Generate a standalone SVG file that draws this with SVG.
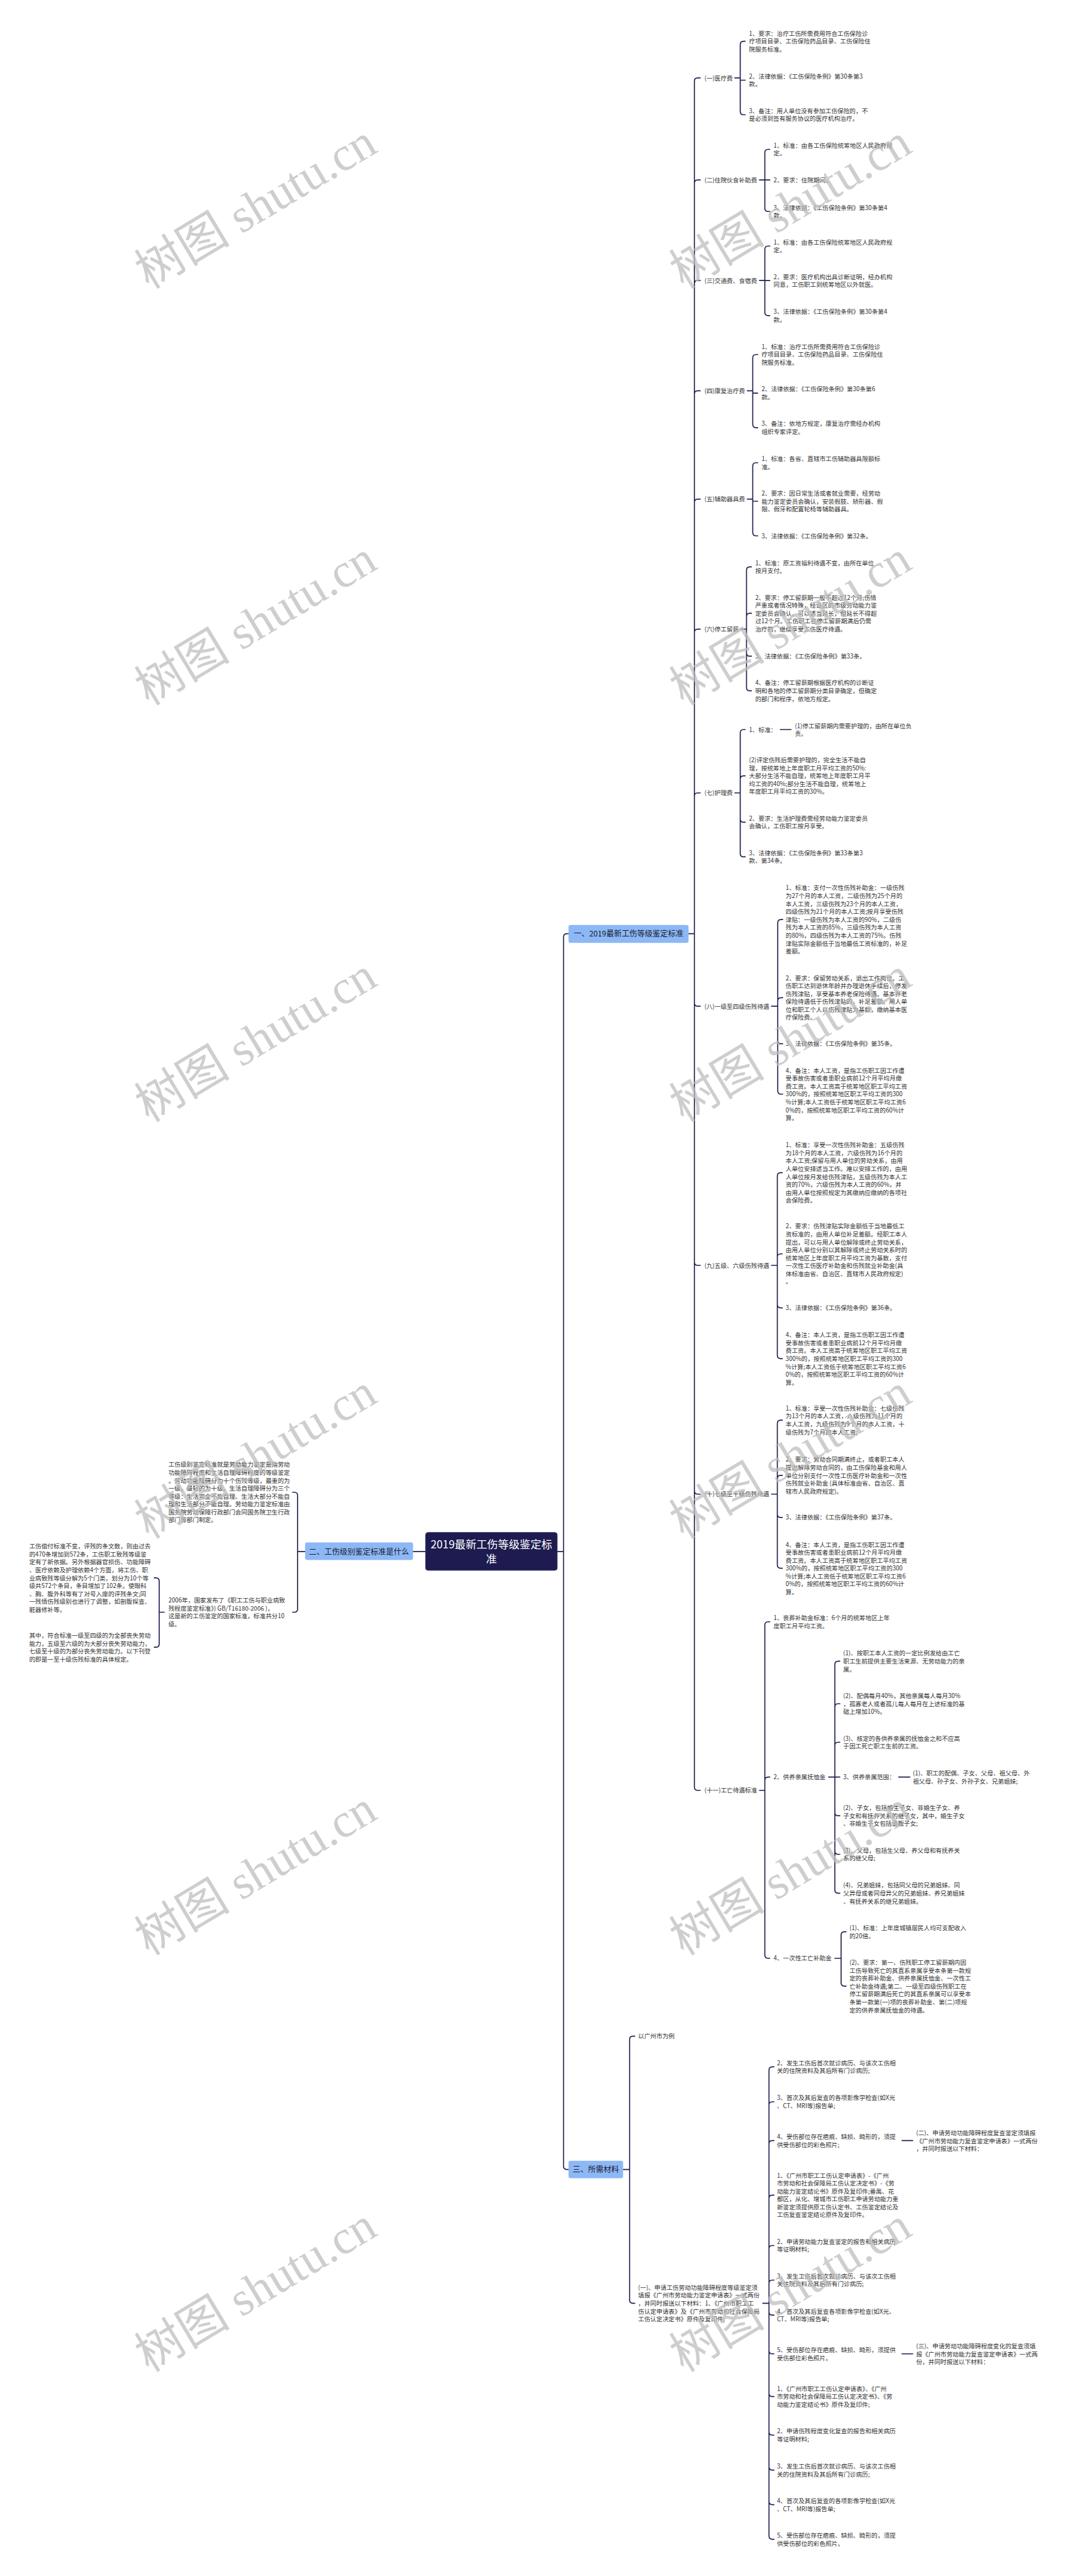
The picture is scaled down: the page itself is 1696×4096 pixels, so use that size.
<svg xmlns="http://www.w3.org/2000/svg" width="1696" height="4096" viewBox="0 0 1696 4096">
<style>
.t{font-family:"Noto Sans CJK SC","Noto Sans",sans-serif;font-size:14.6px;fill:#333}
.bl{font-family:"Noto Sans CJK SC","Noto Sans",sans-serif;font-size:18.5px;fill:#1a1a2e;text-anchor:middle}
.ct{font-family:"Noto Sans CJK SC","Noto Sans",sans-serif;font-size:26px;fill:#fff;text-anchor:middle}
.l{fill:none;stroke:#1f2050;stroke-width:2.5;stroke-linecap:round;stroke-linejoin:round}
.bx{fill:#8db8f6}
.wm{font-size:115px;fill:#bdbdbd;fill-opacity:0.75}
.wc{font-family:"Noto Sans CJK SC",sans-serif}
.ws{font-family:"Liberation Serif",serif}
</style>
<rect width="1696" height="4096" fill="#fff"/>
<g transform="scale(0.6625)">
<g id="connectors" class="l">
<path d="M1337 3724H1352M1352 3724V2249Q1352 2241 1360 2241H1364M1352 3724V5199Q1352 5207 1360 5207H1364M1021 3724H991"/>
<path d="M1652 2241H1666M1666 2241V195Q1666 187 1674 187H1680M1666 2241V440Q1666 432 1674 432H1680M1666 2241V681Q1666 673 1674 673H1680M1666 2241V946Q1666 938 1674 938H1680M1666 2241V1206Q1666 1198 1674 1198H1680M1666 2241V1518Q1666 1510 1674 1510H1680M1666 2241V1911Q1666 1903 1674 1903H1680M1666 2241V2407Q1666 2415 1674 2415H1680M1666 2241V3029Q1666 3037 1674 3037H1680M1666 2241V3578Q1666 3586 1674 3586H1680M1666 2241V4289Q1666 4297 1674 4297H1680"/>
<path d="M1763 187H1776M1776 187V107Q1776 99 1784 99H1788M1776 192.5H1788M1776 187V267.5Q1776 275.5 1784 275.5H1788"/>
<path d="M1822 432H1835M1835 432V366.5Q1835 358.5 1843 358.5H1847M1835 432H1847M1835 432V499.5Q1835 507.5 1843 507.5H1847"/>
<path d="M1822 673H1835M1835 673V598.5Q1835 590.5 1843 590.5H1847M1835 673.5H1847M1835 673V749.5Q1835 757.5 1843 757.5H1847"/>
<path d="M1793 938H1806M1806 938V859Q1806 851 1814 851H1818M1806 943.5H1818M1806 938V1018.5Q1806 1026.5 1814 1026.5H1818"/>
<path d="M1793 1198H1806M1806 1198V1118.5Q1806 1110.5 1814 1110.5H1818M1806 1203H1818M1806 1198V1278Q1806 1286 1814 1286H1818"/>
<path d="M1778 1510H1791M1791 1510V1368.5Q1791 1360.5 1799 1360.5H1803M1791 1510V1480Q1791 1472 1799 1472H1803M1791 1510V1567Q1791 1575 1799 1575H1803M1791 1510V1650Q1791 1658 1799 1658H1803"/>
<path d="M1763 1903H1776M1776 1903V1759Q1776 1751 1784 1751H1788M1776 1903V1870Q1776 1862 1784 1862H1788M1776 1903V1965.5Q1776 1973.5 1784 1973.5H1788M1776 1903V2048.5Q1776 2056.5 1784 2056.5H1788M1872 1751H1898"/>
<path d="M1851 2415H1866M1866 2415V2215Q1866 2207 1874 2207H1878M1866 2415V2402.5Q1866 2394.5 1874 2394.5H1878M1866 2415V2497Q1866 2505 1874 2505H1878M1866 2415V2618Q1866 2626 1874 2626H1878"/>
<path d="M1851 3037H1865M1865 3037V2822.5Q1865 2814.5 1873 2814.5H1877M1865 3037V3017.5Q1865 3009.5 1873 3009.5H1877M1865 3037V3131Q1865 3139 1873 3139H1877M1865 3037V3253Q1865 3261 1873 3261H1877"/>
<path d="M1851 3586H1865M1865 3586V3416.5Q1865 3408.5 1873 3408.5H1877M1865 3586V3549Q1865 3541 1873 3541H1877M1865 3586V3634Q1865 3642 1873 3642H1877M1865 3586V3756Q1865 3764 1873 3764H1877"/>
<path d="M1822 4297H1835M1835 4297V3900.5Q1835 3892.5 1843 3892.5H1847M1835 4297V4273Q1835 4265 1843 4265H1847M1835 4297V4692Q1835 4700 1843 4700H1847"/>
<path d="M1988 4265H2003M2003 4265V3995Q2003 3987 2011 3987H2015M2003 4265V4097Q2003 4089 2011 4089H2015M2003 4265V4189.5Q2003 4181.5 2011 4181.5H2015M2003 4265H2015M2003 4265V4350Q2003 4358 2011 4358H2015M2003 4265V4442.5Q2003 4450.5 2011 4450.5H2015M2003 4265V4536Q2003 4544 2011 4544H2015M2156 4265H2183"/>
<path d="M2003 4700H2018M2018 4700V4644.5Q2018 4636.5 2026 4636.5H2030M2018 4700V4759Q2018 4767 2026 4767H2030"/>
<path d="M1495 5207H1510.5M1510.5 5207V4895Q1510.5 4887 1518.5 4887H1523M1510.5 5207V5520Q1510.5 5528 1518.5 5528H1523"/>
<path d="M1830 5528H1845M1845 5528V4968.5Q1845 4960.5 1853 4960.5H1857M1845 5528V5052.5Q1845 5044.5 1853 5044.5H1857M1845 5528V5145.5Q1845 5137.5 1853 5137.5H1857M1845 5528V5276.5Q1845 5268.5 1853 5268.5H1857M1845 5528V5397.5Q1845 5389.5 1853 5389.5H1857M1845 5528V5480.5Q1845 5472.5 1853 5472.5H1857M1845 5528V5548.5Q1845 5556.5 1853 5556.5H1857M1845 5528V5641.5Q1845 5649.5 1853 5649.5H1857M1845 5528V5744Q1845 5752 1853 5752H1857M1845 5528V5836.5Q1845 5844.5 1853 5844.5H1857M1845 5528V5920.5Q1845 5928.5 1853 5928.5H1857M1845 5528V6003.5Q1845 6011.5 1853 6011.5H1857M1845 5528V6086.5Q1845 6094.5 1853 6094.5H1857M2164 5137.5H2190M2164 5649.5H2190"/>
<path d="M732 3724H714M714 3724V3589.5Q714 3581.5 706 3581.5H702M714 3724V3861.5Q714 3869.5 706 3869.5H702"/>
<path d="M394 3869.5H382M382 3869.5V3795Q382 3787 374 3787H370M382 3869.5V3945.5Q382 3953.5 374 3953.5H370"/>
</g>

<g id="center"><rect x="1021" y="3678" width="316" height="91" rx="6" fill="#1d1b4f" stroke="#3a3a70" stroke-width="1.5"/><text class="ct" x="1179" y="3716.5">2019最新工伤等级鉴定标</text><text class="ct" x="1179" y="3750.5">准</text></g>
<g id="b1"><rect class="bx" x="1364" y="2220" width="288" height="43" rx="5"/><text class="bl" x="1508" y="2248">一、2019最新工伤等级鉴定标准</text></g>
<g id="b2"><rect class="bx" x="732" y="3702" width="259" height="42" rx="5"/><text class="bl" x="861.5" y="3731">二、工伤级别鉴定标准是什么</text></g>
<g id="b3"><rect class="bx" x="1364" y="5186" width="131" height="42" rx="5"/><text class="bl" x="1429.5" y="5214">三、所需材料</text></g>

<g id="a1"><text class="t" x="1690" y="192.5">(一)医疗费</text></g>
<g id="a1-1"><text class="t" x="1797" y="85.5"><tspan x="1797">1、要求：治疗工伤所需费用符合工伤保险诊</tspan><tspan x="1797" dy="19">疗项目目录、工伤保险药品目录、工伤保险住</tspan><tspan x="1797" dy="19">院服务标准。</tspan></text></g>
<g id="a1-2"><text class="t" x="1797" y="188.5"><tspan x="1797">2、法律依据：《工伤保险条例》第30条第3</tspan><tspan x="1797" dy="19">款。</tspan></text></g>
<g id="a1-3"><text class="t" x="1797" y="271.5"><tspan x="1797">3、备注：用人单位没有参加工伤保险的，不</tspan><tspan x="1797" dy="19">是必须到签有服务协议的医疗机构治疗。</tspan></text></g>

<g id="a2"><text class="t" x="1690" y="437.5">(二)住院伙食补助费</text></g>
<g id="a2-1"><text class="t" x="1856" y="354.5"><tspan x="1856">1、标准：由各工伤保险统筹地区人民政府规</tspan><tspan x="1856" dy="19">定。</tspan></text></g>
<g id="a2-2"><text class="t" x="1856" y="437.5">2、要求：住院期间。</text></g>
<g id="a2-3"><text class="t" x="1856" y="503.5"><tspan x="1856">3、法律依据：《工伤保险条例》第30条第4</tspan><tspan x="1856" dy="19">款。</tspan></text></g>

<g id="a3"><text class="t" x="1690" y="678.5">(三)交通费、食宿费</text></g>
<g id="a3-1"><text class="t" x="1856" y="586.5"><tspan x="1856">1、标准：由各工伤保险统筹地区人民政府规</tspan><tspan x="1856" dy="19">定。</tspan></text></g>
<g id="a3-2"><text class="t" x="1856" y="669.5"><tspan x="1856">2、要求：医疗机构出具诊断证明，经办机构</tspan><tspan x="1856" dy="19">同意，工伤职工到统筹地区以外就医。</tspan></text></g>
<g id="a3-3"><text class="t" x="1856" y="753.5"><tspan x="1856">3、法律依据：《工伤保险条例》第30条第4</tspan><tspan x="1856" dy="19">款。</tspan></text></g>

<g id="a4"><text class="t" x="1690" y="943.5">(四)康复治疗费</text></g>
<g id="a4-1"><text class="t" x="1827" y="837.5"><tspan x="1827">1、标准：治疗工伤所需费用符合工伤保险诊</tspan><tspan x="1827" dy="19">疗项目目录、工伤保险药品目录、工伤保险住</tspan><tspan x="1827" dy="19">院服务标准。</tspan></text></g>
<g id="a4-2"><text class="t" x="1827" y="939.5"><tspan x="1827">2、法律依据：《工伤保险条例》第30条第6</tspan><tspan x="1827" dy="19">款。</tspan></text></g>
<g id="a4-3"><text class="t" x="1827" y="1022.5"><tspan x="1827">3、备注：依地方规定，康复治疗需经办机构</tspan><tspan x="1827" dy="19">组织专家评定。</tspan></text></g>

<g id="a5"><text class="t" x="1690" y="1203.5">(五)辅助器具费</text></g>
<g id="a5-1"><text class="t" x="1827" y="1106.5"><tspan x="1827">1、标准：各省、直辖市工伤辅助器具限额标</tspan><tspan x="1827" dy="19">准。</tspan></text></g>
<g id="a5-2"><text class="t" x="1827" y="1189.5"><tspan x="1827">2、要求：因日常生活或者就业需要，经劳动</tspan><tspan x="1827" dy="19">能力鉴定委员会确认，安装假肢、矫形器、假</tspan><tspan x="1827" dy="19">眼、假牙和配置轮椅等辅助器具。</tspan></text></g>
<g id="a5-3"><text class="t" x="1827" y="1291.5">3、法律依据：《工伤保险条例》第32条。</text></g>

<g id="a6"><text class="t" x="1690" y="1515.5">(六)停工留薪</text></g>
<g id="a6-1"><text class="t" x="1812" y="1356.5"><tspan x="1812">1、标准：原工资福利待遇不变，由所在单位</tspan><tspan x="1812" dy="19">按月支付。</tspan></text></g>
<g id="a6-2"><text class="t" x="1812" y="1439.5"><tspan x="1812">2、要求：停工留薪期一般不超过12个月;伤情</tspan><tspan x="1812" dy="19">严重或者情况特殊，经设区的市级劳动能力鉴</tspan><tspan x="1812" dy="19">定委员会确认，可以适当延长，但延长不得超</tspan><tspan x="1812" dy="19">过12个月。工伤职工在停工留薪期满后仍需</tspan><tspan x="1812" dy="19">治疗的，继续享受工伤医疗待遇。</tspan></text></g>
<g id="a6-3"><text class="t" x="1812" y="1580.5">3、法律依据：《工伤保险条例》第33条。</text></g>
<g id="a6-4"><text class="t" x="1812" y="1644.5"><tspan x="1812">4、备注：停工留薪期根据医疗机构的诊断证</tspan><tspan x="1812" dy="19">明和各地的停工留薪期分类目录确定，但确定</tspan><tspan x="1812" dy="19">的部门和程序，依地方规定。</tspan></text></g>

<g id="a7"><text class="t" x="1690" y="1908.5">(七)护理费</text></g>
<g id="a7-1"><text class="t" x="1797" y="1756.5">1、标准：</text></g>
<g id="a7-1-1"><text class="t" x="1907" y="1747.5"><tspan x="1907">(1)停工留薪期内需要护理的，由所在单位负</tspan><tspan x="1907" dy="19">责。</tspan></text></g>
<g id="a7-2"><text class="t" x="1797" y="1829.5"><tspan x="1797">(2)评定伤残后需要护理的，完全生活不能自</tspan><tspan x="1797" dy="19">理，按统筹地上年度职工月平均工资的50%:</tspan><tspan x="1797" dy="19">大部分生活不能自理，统筹地上年度职工月平</tspan><tspan x="1797" dy="19">均工资的40%;部分生活不能自理，统筹地上</tspan><tspan x="1797" dy="19">年度职工月平均工资的30%。</tspan></text></g>
<g id="a7-3"><text class="t" x="1797" y="1969.5"><tspan x="1797">2、要求：生活护理费需经劳动能力鉴定委员</tspan><tspan x="1797" dy="19">会确认，工伤职工按月享受。</tspan></text></g>
<g id="a7-4"><text class="t" x="1797" y="2052.5"><tspan x="1797">3、法律依据：《工伤保险条例》第33条第3</tspan><tspan x="1797" dy="19">款、第34条。</tspan></text></g>

<g id="a8"><text class="t" x="1690" y="2420.5">(八)一级至四级伤残待遇</text></g>
<g id="a8-1"><text class="t" x="1885" y="2136.5"><tspan x="1885">1、标准：支付一次性伤残补助金：一级伤残</tspan><tspan x="1885" dy="19">为27个月的本人工资，二级伤残为25个月的</tspan><tspan x="1885" dy="19">本人工资，三级伤残为23个月的本人工资，</tspan><tspan x="1885" dy="19">四级伤残为21个月的本人工资;按月享受伤残</tspan><tspan x="1885" dy="19">津贴：一级伤残为本人工资的90%，二级伤</tspan><tspan x="1885" dy="19">残为本人工资的85%，三级伤残为本人工资</tspan><tspan x="1885" dy="19">的80%，四级伤残为本人工资的75%。伤残</tspan><tspan x="1885" dy="19">津贴实际金额低于当地最低工资标准的，补足</tspan><tspan x="1885" dy="19">差额。</tspan></text></g>
<g id="a8-2"><text class="t" x="1885" y="2352.5"><tspan x="1885">2、要求：保留劳动关系，退出工作岗位。工</tspan><tspan x="1885" dy="19">伤职工达到退休年龄并办理退休手续后，停发</tspan><tspan x="1885" dy="19">伤残津贴，享受基本养老保险待遇。基本养老</tspan><tspan x="1885" dy="19">保险待遇低于伤残津贴的，补足差额。用人单</tspan><tspan x="1885" dy="19">位和职工个人以伤残津贴为基数，缴纳基本医</tspan><tspan x="1885" dy="19">疗保险费。</tspan></text></g>
<g id="a8-3"><text class="t" x="1885" y="2510.5">3、法律依据：《工伤保险条例》第35条。</text></g>
<g id="a8-4"><text class="t" x="1885" y="2574.5"><tspan x="1885">4、备注：本人工资，是指工伤职工因工作遭</tspan><tspan x="1885" dy="19">受事故伤害或者患职业病前12个月平均月缴</tspan><tspan x="1885" dy="19">费工资。本人工资高于统筹地区职工平均工资</tspan><tspan x="1885" dy="19">300%的，按照统筹地区职工平均工资的300</tspan><tspan x="1885" dy="19">%计算;本人工资低于统筹地区职工平均工资6</tspan><tspan x="1885" dy="19">0%的，按照统筹地区职工平均工资的60%计</tspan><tspan x="1885" dy="19">算。</tspan></text></g>

<g id="a9"><text class="t" x="1690" y="3042.5">(九)五级、六级伤残待遇</text></g>
<g id="a9-1"><text class="t" x="1885" y="2753.5"><tspan x="1885">1、标准：享受一次性伤残补助金：五级伤残</tspan><tspan x="1885" dy="19">为18个月的本人工资，六级伤残为16个月的</tspan><tspan x="1885" dy="19">本人工资;保留与用人单位的劳动关系，由用</tspan><tspan x="1885" dy="19">人单位安排适当工作。难以安排工作的，由用</tspan><tspan x="1885" dy="19">人单位按月发给伤残津贴，五级伤残为本人工</tspan><tspan x="1885" dy="19">资的70%，六级伤残为本人工资的60%，并</tspan><tspan x="1885" dy="19">由用人单位按照规定为其缴纳应缴纳的各项社</tspan><tspan x="1885" dy="19">会保险费。</tspan></text></g>
<g id="a9-2"><text class="t" x="1885" y="2948.5"><tspan x="1885">2、要求：伤残津贴实际金额低于当地最低工</tspan><tspan x="1885" dy="19">资标准的，由用人单位补足差额。经职工本人</tspan><tspan x="1885" dy="19">提出，可以与用人单位解除或终止劳动关系，</tspan><tspan x="1885" dy="19">由用人单位分别以其解除或终止劳动关系时的</tspan><tspan x="1885" dy="19">统筹地区上年度职工月平均工资为基数，支付</tspan><tspan x="1885" dy="19">一次性工伤医疗补助金和伤残就业补助金(具</tspan><tspan x="1885" dy="19">体标准由省、自治区、直辖市人民政府规定)</tspan><tspan x="1885" dy="19">。</tspan></text></g>
<g id="a9-3"><text class="t" x="1885" y="3144.5">3、法律依据：《工伤保险条例》第36条。</text></g>
<g id="a9-4"><text class="t" x="1885" y="3209.5"><tspan x="1885">4、备注：本人工资，是指工伤职工因工作遭</tspan><tspan x="1885" dy="19">受事故伤害或者患职业病前12个月平均月缴</tspan><tspan x="1885" dy="19">费工资。本人工资高于统筹地区职工平均工资</tspan><tspan x="1885" dy="19">300%的，按照统筹地区职工平均工资的300</tspan><tspan x="1885" dy="19">%计算;本人工资低于统筹地区职工平均工资6</tspan><tspan x="1885" dy="19">0%的，按照统筹地区职工平均工资的60%计</tspan><tspan x="1885" dy="19">算。</tspan></text></g>

<g id="a10"><text class="t" x="1690" y="3591.5">(十)七级至十级伤残待遇</text></g>
<g id="a10-1"><text class="t" x="1885" y="3385.5"><tspan x="1885">1、标准：享受一次性伤残补助金：七级伤残</tspan><tspan x="1885" dy="19">为13个月的本人工资，八级伤残为11个月的</tspan><tspan x="1885" dy="19">本人工资，九级伤残为9个月的本人工资，十</tspan><tspan x="1885" dy="19">级伤残为7个月的本人工资;</tspan></text></g>
<g id="a10-2"><text class="t" x="1885" y="3508.5"><tspan x="1885">2、要求：劳动合同期满终止，或者职工本人</tspan><tspan x="1885" dy="19">提出解除劳动合同的，由工伤保险基金和用人</tspan><tspan x="1885" dy="19">单位分别支付一次性工伤医疗补助金和一次性</tspan><tspan x="1885" dy="19">伤残就业补助金 (具体标准由省、自治区、直</tspan><tspan x="1885" dy="19">辖市人民政府规定)。</tspan></text></g>
<g id="a10-3"><text class="t" x="1885" y="3647.5">3、法律依据：《工伤保险条例》第37条。</text></g>
<g id="a10-4"><text class="t" x="1885" y="3712.5"><tspan x="1885">4、备注：本人工资，是指工伤职工因工作遭</tspan><tspan x="1885" dy="19">受事故伤害或者患职业病前12个月平均月缴</tspan><tspan x="1885" dy="19">费工资。本人工资高于统筹地区职工平均工资</tspan><tspan x="1885" dy="19">300%的，按照统筹地区职工平均工资的300</tspan><tspan x="1885" dy="19">%计算;本人工资低于统筹地区职工平均工资6</tspan><tspan x="1885" dy="19">0%的，按照统筹地区职工平均工资的60%计</tspan><tspan x="1885" dy="19">算。</tspan></text></g>

<g id="a11"><text class="t" x="1690" y="4302.5">(十一)工亡待遇标准</text></g>
<g id="a11-1"><text class="t" x="1856" y="3888.5"><tspan x="1856">1、丧葬补助金标准：6个月的统筹地区上年</tspan><tspan x="1856" dy="19">度职工月平均工资。</tspan></text></g>
<g id="a11-2"><text class="t" x="1856" y="4270.5">2、供养亲属抚恤金</text></g>
<g id="a11-2-1"><text class="t" x="2023" y="3973.5"><tspan x="2023">(1)、按职工本人工资的一定比例发给由工亡</tspan><tspan x="2023" dy="19">职工生前提供主要生活来源、无劳动能力的亲</tspan><tspan x="2023" dy="19">属。</tspan></text></g>
<g id="a11-2-2"><text class="t" x="2023" y="4075.5"><tspan x="2023">(2)、配偶每月40%，其他亲属每人每月30%</tspan><tspan x="2023" dy="19">，孤寡老人或者孤儿每人每月在上述标准的基</tspan><tspan x="2023" dy="19">础上增加10%。</tspan></text></g>
<g id="a11-2-3"><text class="t" x="2023" y="4177.5"><tspan x="2023">(3)、核定的各供养亲属的抚恤金之和不应高</tspan><tspan x="2023" dy="19">于因工死亡职工生前的工资。</tspan></text></g>
<g id="a11-2-4"><text class="t" x="2023" y="4270.5">3、供养亲属范围：</text></g>
<g id="a11-2-4-1"><text class="t" x="2190" y="4261.5"><tspan x="2190">(1)、职工的配偶、子女、父母、祖父母、外</tspan><tspan x="2190" dy="19">祖父母、孙子女、外孙子女、兄弟姐妹;</tspan></text></g>
<g id="a11-2-5"><text class="t" x="2023" y="4344.5"><tspan x="2023">(2)、子女，包括婚生子女、非婚生子女、养</tspan><tspan x="2023" dy="19">子女和有抚养关系的继子女，其中，婚生子女</tspan><tspan x="2023" dy="19">、非婚生子女包括遗腹子女;</tspan></text></g>
<g id="a11-2-6"><text class="t" x="2023" y="4446.5"><tspan x="2023">(3)、父母，包括生父母、养父母和有抚养关</tspan><tspan x="2023" dy="19">系的继父母;</tspan></text></g>
<g id="a11-2-7"><text class="t" x="2023" y="4530.5"><tspan x="2023">(4)、兄弟姐妹，包括同父母的兄弟姐妹、同</tspan><tspan x="2023" dy="19">父异母或者同母异父的兄弟姐妹、养兄弟姐妹</tspan><tspan x="2023" dy="19">、有抚养关系的继兄弟姐妹。</tspan></text></g>
<g id="a11-3"><text class="t" x="1856" y="4705.5">4、一次性工亡补助金</text></g>
<g id="a11-3-1"><text class="t" x="2038" y="4632.5"><tspan x="2038">(1)、标准：上年度城镇居民人均可支配收入</tspan><tspan x="2038" dy="19">的20倍。</tspan></text></g>
<g id="a11-3-2"><text class="t" x="2038" y="4715.5"><tspan x="2038">(2)、要求：第一、伤残职工停工留薪期内因</tspan><tspan x="2038" dy="19">工伤导致死亡的其直系亲属享受本条第一款规</tspan><tspan x="2038" dy="19">定的丧葬补助金、供养亲属抚恤金、一次性工</tspan><tspan x="2038" dy="19">亡补助金待遇;第二、一级至四级伤残职工在</tspan><tspan x="2038" dy="19">停工留薪期满后死亡的其直系亲属可以享受本</tspan><tspan x="2038" dy="19">条第一款第(一)项的丧葬补助金、第(二)项规</tspan><tspan x="2038" dy="19">定的供养亲属抚恤金的待遇。</tspan></text></g>

<g id="c0"><text class="t" x="1531" y="4892.5">以广州市为例</text></g>
<g id="c1"><text class="t" x="1531" y="5495.5"><tspan x="1531">(一)、申请工伤劳动功能障碍程度等级鉴定须</tspan><tspan x="1531" dy="19">填报《广州市劳动能力鉴定申请表》一式两份</tspan><tspan x="1531" dy="19">，并同时报送以下材料：1、《广州市职工工</tspan><tspan x="1531" dy="19">伤认定申请表》及《广州市劳动和社会保障局</tspan><tspan x="1531" dy="19">工伤认定决定书》原件及复印件;</tspan></text></g>
<g id="c1-1"><text class="t" x="1864" y="4956.5"><tspan x="1864">2、发生工伤后首次就诊病历、与该次工伤相</tspan><tspan x="1864" dy="19">关的住院资料及其后所有门诊病历;</tspan></text></g>
<g id="c1-2"><text class="t" x="1864" y="5040.5"><tspan x="1864">3、首次及其后复查的各项影像学检查(如X光</tspan><tspan x="1864" dy="19">、CT、MRI等)报告单;</tspan></text></g>
<g id="c1-3"><text class="t" x="1864" y="5133.5"><tspan x="1864">4、受伤部位存在疤痕、缺损、畸形的，须提</tspan><tspan x="1864" dy="19">供受伤部位的彩色照片;</tspan></text></g>
<g id="c1-3-1"><text class="t" x="2198" y="5124.5"><tspan x="2198">(二)、申请劳动功能障碍程度复查鉴定须填报</tspan><tspan x="2198" dy="19">《广州市劳动能力复查鉴定申请表》一式两份</tspan><tspan x="2198" dy="19">，并同时报送以下材料：</tspan></text></g>
<g id="c1-4"><text class="t" x="1864" y="5226.5"><tspan x="1864">1、《广州市职工工伤认定申请表》-《广州</tspan><tspan x="1864" dy="19">市劳动和社会保障局工伤认定决定书》-《劳</tspan><tspan x="1864" dy="19">动能力鉴定结论书》原件及复印件;番禺、花</tspan><tspan x="1864" dy="19">都区，从化、增城市工伤职工申请劳动能力重</tspan><tspan x="1864" dy="19">新鉴定须提供原工伤认定书、工伤鉴定结论及</tspan><tspan x="1864" dy="19">工伤复查鉴定结论原件及复印件。</tspan></text></g>
<g id="c1-5"><text class="t" x="1864" y="5385.5"><tspan x="1864">2、申请劳动能力复查鉴定的报告和相关病历</tspan><tspan x="1864" dy="19">等证明材料;</tspan></text></g>
<g id="c1-6"><text class="t" x="1864" y="5468.5"><tspan x="1864">3、发生工伤后首次就诊病历、与该次工伤相</tspan><tspan x="1864" dy="19">关住院资料及其后所有门诊病历;</tspan></text></g>
<g id="c1-7"><text class="t" x="1864" y="5552.5"><tspan x="1864">4、首次及其后复查各项影像学检查(如X光、</tspan><tspan x="1864" dy="19">CT、MRI等)报告单;</tspan></text></g>
<g id="c1-8"><text class="t" x="1864" y="5645.5"><tspan x="1864">5、受伤部位存在疤痕、缺损、畸形，须提供</tspan><tspan x="1864" dy="19">受伤部位彩色照片。</tspan></text></g>
<g id="c1-8-1"><text class="t" x="2198" y="5636.5"><tspan x="2198">(三)、申请劳动功能障碍程度变化的复查须填</tspan><tspan x="2198" dy="19">报《广州市劳动能力复查鉴定申请表》一式两</tspan><tspan x="2198" dy="19">份，并同时报送以下材料：</tspan></text></g>
<g id="c1-9"><text class="t" x="1864" y="5738.5"><tspan x="1864">1、《广州市职工工伤认定申请表》、《广州</tspan><tspan x="1864" dy="19">市劳动和社会保障局工伤认定决定书》、《劳</tspan><tspan x="1864" dy="19">动能力鉴定结论书》原件及复印件;</tspan></text></g>
<g id="c1-10"><text class="t" x="1864" y="5840.5"><tspan x="1864">2、申请伤残程度变化复查的报告和相关病历</tspan><tspan x="1864" dy="19">等证明材料;</tspan></text></g>
<g id="c1-11"><text class="t" x="1864" y="5924.5"><tspan x="1864">3、发生工伤后首次就诊病历、与该次工伤相</tspan><tspan x="1864" dy="19">关的住院资料及其后所有门诊病历;</tspan></text></g>
<g id="c1-12"><text class="t" x="1864" y="6007.5"><tspan x="1864">4、首次及其后复查的各项影像学检查(如X光</tspan><tspan x="1864" dy="19">、CT、MRI等)报告单;</tspan></text></g>
<g id="c1-13"><text class="t" x="1864" y="6090.5"><tspan x="1864">5、受伤部位存在疤痕、缺损、畸形的，须提</tspan><tspan x="1864" dy="19">供受伤部位的彩色照片。</tspan></text></g>

<g id="b2-1"><text class="t" x="404" y="3520.5"><tspan x="404">工伤级别鉴定标准就是劳动能力鉴定是指劳动</tspan><tspan x="404" dy="19">功能障碍程度和生活自理障碍程度的等级鉴定</tspan><tspan x="404" dy="19">。劳动功能障碍分为十个伤残等级，最重的为</tspan><tspan x="404" dy="19">一级，最轻的为十级。生活自理障碍分为三个</tspan><tspan x="404" dy="19">等级：生活完全不能自理、生活大部分不能自</tspan><tspan x="404" dy="19">理和生活部分不能自理。劳动能力鉴定标准由</tspan><tspan x="404" dy="19">国务院劳动保障行政部门会同国务院卫生行政</tspan><tspan x="404" dy="19">部门等部门制定。</tspan></text></g>
<g id="b2-2"><text class="t" x="404" y="3846.5"><tspan x="404">2006年，国家发布了《职工工伤与职业病致</tspan><tspan x="404" dy="19">残程度鉴定标准》) GB/T16180-2006 )，</tspan><tspan x="404" dy="19">这是新的工伤鉴定的国家标准，标准共分10</tspan><tspan x="404" dy="19">级。</tspan></text></g>
<g id="b2-2-1"><text class="t" x="70" y="3716.5"><tspan x="70">工伤偿付标准不变，评残的条文数，则由过去</tspan><tspan x="70" dy="19">的470条增加到572条，工伤职工致残等级鉴</tspan><tspan x="70" dy="19">定有了新依据。另外根据器官损伤、功能障碍</tspan><tspan x="70" dy="19">、医疗依赖及护理依赖4个方面，将工伤、职</tspan><tspan x="70" dy="19">业病致残等级分解为5个门类，划分为10个等</tspan><tspan x="70" dy="19">级共572个条目，条目增加了102条。使眼科</tspan><tspan x="70" dy="19">、胸、腹外科等有了对号入座的评残条文;同</tspan><tspan x="70" dy="19">一残情伤残级别也进行了调整，如剖腹探查、</tspan><tspan x="70" dy="19">脏器修补等。</tspan></text></g>
<g id="b2-2-2"><text class="t" x="70" y="3930.5"><tspan x="70">其中，符合标准一级至四级的为全部丧失劳动</tspan><tspan x="70" dy="19">能力，五级至六级的为大部分丧失劳动能力，</tspan><tspan x="70" dy="19">七级至十级的为部分丧失劳动能力。以下刊登</tspan><tspan x="70" dy="19">的即是一至十级伤残标准的具体规定。</tspan></text></g>

<g id="watermark" class="wm">
<text transform="translate(1640 695) rotate(-31)"><tspan class="wc">树图</tspan><tspan class="ws"> shutu.cn</tspan></text>
<text transform="translate(1640 1695) rotate(-31)"><tspan class="wc">树图</tspan><tspan class="ws"> shutu.cn</tspan></text>
<text transform="translate(1640 2695) rotate(-31)"><tspan class="wc">树图</tspan><tspan class="ws"> shutu.cn</tspan></text>
<text transform="translate(1640 3695) rotate(-31)"><tspan class="wc">树图</tspan><tspan class="ws"> shutu.cn</tspan></text>
<text transform="translate(1640 4695) rotate(-31)"><tspan class="wc">树图</tspan><tspan class="ws"> shutu.cn</tspan></text>
<text transform="translate(1640 5695) rotate(-31)"><tspan class="wc">树图</tspan><tspan class="ws"> shutu.cn</tspan></text>
<text transform="translate(357 695) rotate(-31)"><tspan class="wc">树图</tspan><tspan class="ws"> shutu.cn</tspan></text>
<text transform="translate(357 1695) rotate(-31)"><tspan class="wc">树图</tspan><tspan class="ws"> shutu.cn</tspan></text>
<text transform="translate(357 2695) rotate(-31)"><tspan class="wc">树图</tspan><tspan class="ws"> shutu.cn</tspan></text>
<text transform="translate(357 3695) rotate(-31)"><tspan class="wc">树图</tspan><tspan class="ws"> shutu.cn</tspan></text>
<text transform="translate(357 4695) rotate(-31)"><tspan class="wc">树图</tspan><tspan class="ws"> shutu.cn</tspan></text>
<text transform="translate(357 5695) rotate(-31)"><tspan class="wc">树图</tspan><tspan class="ws"> shutu.cn</tspan></text>
</g>
</g>
</svg>
